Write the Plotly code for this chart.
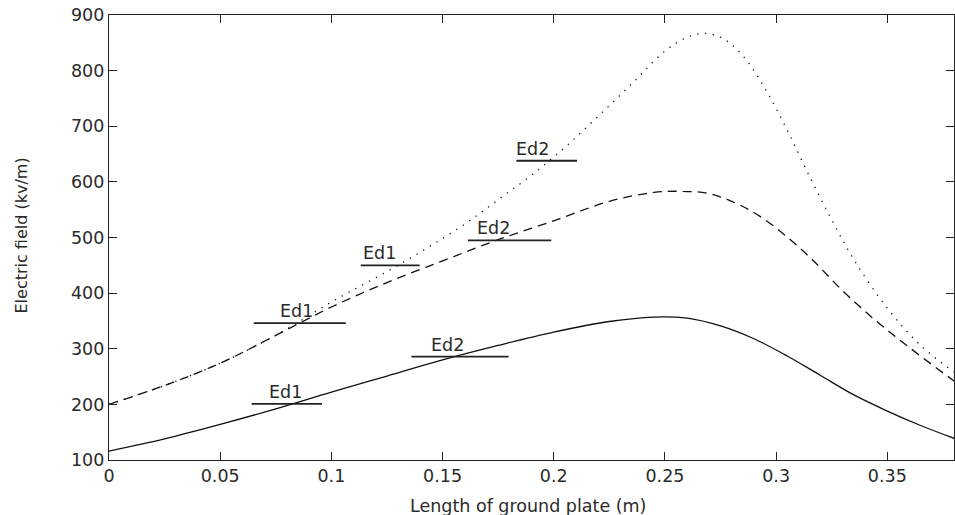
import plotly.graph_objects as go

# ---- data ----
solid_x = [0, 0.025, 0.05, 0.075, 0.1, 0.125, 0.15, 0.175, 0.2, 0.225, 0.245, 0.26,
           0.275, 0.29, 0.305, 0.32, 0.335, 0.35, 0.365, 0.38]
solid_y = [116, 138, 164, 192, 222, 251, 280, 306, 330, 349, 357, 355,
           341, 318, 287, 252, 217, 188, 162, 139]

dash_x = [0, 0.025, 0.05, 0.075, 0.1, 0.125, 0.15, 0.175, 0.2, 0.225, 0.245, 0.258,
          0.27, 0.28, 0.29, 0.3, 0.315, 0.33, 0.345, 0.36, 0.38]
dash_y = [200, 234, 274, 324, 375, 419, 458, 496, 530, 565, 581, 583,
          579, 565, 545, 517, 465, 404, 350, 302, 242]

dot_x = [0, 0.025, 0.05, 0.075, 0.1, 0.115, 0.13, 0.145, 0.16, 0.175, 0.19, 0.205, 0.22,
         0.235, 0.25, 0.26, 0.268, 0.276, 0.285, 0.295, 0.305, 0.315, 0.325, 0.335,
         0.35, 0.365, 0.38]
dot_y = [200, 234, 274, 324, 384, 417, 450, 486, 524, 568, 612, 662, 718,
         776, 835, 860, 867, 858, 827, 768, 693, 610, 532, 460,
         373, 306, 258]

# Ed markers: label, segment start, segment end, level, label x
ed_labels = ["Ed1", "Ed1", "Ed1", "Ed2", "Ed2", "Ed2"]
ed_x0 = [0.0641, 0.0651, 0.1132, 0.136, 0.1614, 0.1832]
ed_x1 = [0.0958, 0.1065, 0.1397, 0.1797, 0.1989, 0.2105]
ed_y = [201, 346, 450, 286, 495, 638]
ed_text_x = [0.0710, 0.0760, 0.1135, 0.1438, 0.1648, 0.1820]

x_ticks = [0, 0.05, 0.1, 0.15, 0.2, 0.25, 0.3, 0.35]
x_tick_text = ["0", "0.05", "0.1", "0.15", "0.2", "0.25", "0.3", "0.35"]
y_ticks = [100, 200, 300, 400, 500, 600, 700, 800, 900]

FONT = "DejaVu Sans"
FS = 17.5
TXT = "#2a2a2a"

fig = go.Figure()
fig.add_trace(go.Scatter(x=solid_x, y=solid_y, mode="lines",
                         line=dict(color="#111", width=1.3, shape="spline", smoothing=1.0), showlegend=False))
fig.add_trace(go.Scatter(x=dash_x, y=dash_y, mode="lines",
                         line=dict(color="#111", width=1.3, dash="9px,6px", shape="spline", smoothing=1.0), showlegend=False))
fig.add_trace(go.Scatter(x=dot_x, y=dot_y, mode="lines",
                         line=dict(color="#111", width=1.3, dash="1.3px,6.5px", shape="spline", smoothing=1.0), showlegend=False))

for lab, a, b, yv, tx in zip(ed_labels, ed_x0, ed_x1, ed_y, ed_text_x):
    fig.add_trace(go.Scatter(x=[a, b], y=[yv, yv], mode="lines",
                             line=dict(color="#222", width=1.8), showlegend=False))
    fig.add_annotation(x=tx, y=yv, xref="x", yref="y", text=lab, showarrow=False,
                       xanchor="left", yanchor="bottom", yshift=0,
                       font=dict(family=FONT, size=FS, color=TXT))

fig.add_annotation(x=0.5, y=0, xref="paper", yref="paper", text="Length of ground plate (m)",
                   showarrow=False, xanchor="center", yanchor="top", yshift=-34, xshift=-4,
                   font=dict(family=FONT, size=17.5, color=TXT))
fig.add_annotation(x=0, y=0.5, xref="paper", yref="paper", text="Electric field (kv/m)",
                   showarrow=False, xanchor="center", yanchor="middle", xshift=-88, yshift=2,
                   textangle=-90, font=dict(family=FONT, size=16, color=TXT))

fig.update_layout(
    width=955, height=515, autosize=False,
    margin=dict(l=109, r=1, t=15, b=55),
    paper_bgcolor="white", plot_bgcolor="white",
    font=dict(family=FONT, size=FS, color=TXT),
)
fig.update_xaxes(range=[0, 0.38], tickvals=x_ticks, ticktext=x_tick_text,
                 ticks="inside", ticklen=8, tickwidth=1.3, tickcolor="#222",
                 showline=True, linecolor="#222", linewidth=1.3, mirror="ticks",
                 showgrid=False, zeroline=False, tickfont=dict(family=FONT, size=FS, color=TXT))
fig.update_yaxes(range=[100, 900], tickvals=y_ticks,
                 ticks="inside", ticklen=8, tickwidth=1.3, tickcolor="#222",
                 showline=True, linecolor="#222", linewidth=1.3, mirror="ticks",
                 showgrid=False, zeroline=False, tickfont=dict(family=FONT, size=FS, color=TXT))

fig.write_html("out.html")
